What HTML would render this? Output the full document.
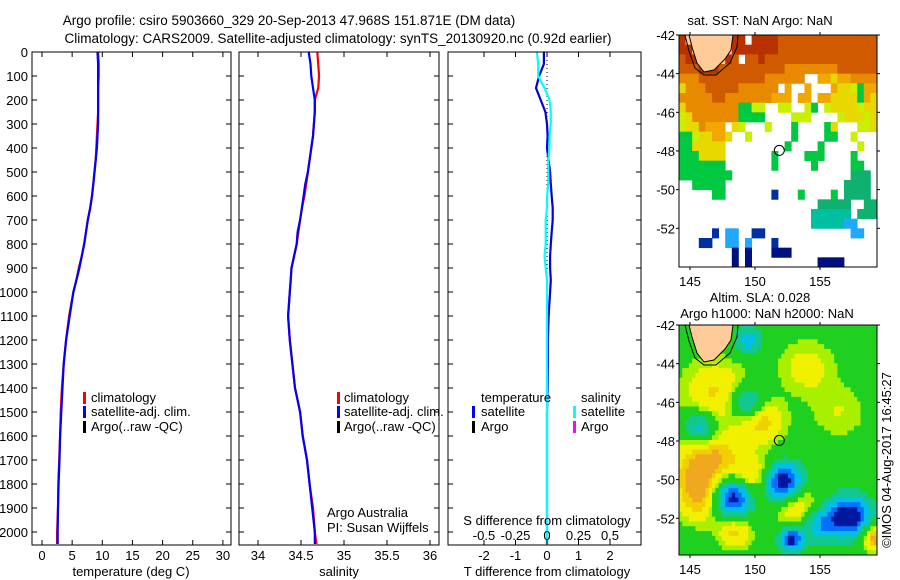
<!DOCTYPE html>
<html><head><meta charset="utf-8">
<style>
html,body{margin:0;padding:0;background:#fff;}
svg{display:block;font-family:"Liberation Sans",sans-serif;}
text{fill:#000;}
</style></head>
<body>
<svg id="fig" width="900" height="580" viewBox="0 0 900 580" xmlns="http://www.w3.org/2000/svg">
<text x="289" y="25" font-size="13.5" text-anchor="middle">Argo profile: csiro 5903660_329 20-Sep-2013 47.968S 151.871E (DM data)</text>
<text x="338" y="43" font-size="13.5" text-anchor="middle">Climatology: CARS2009. Satellite-adjusted climatology: synTS_20130920.nc (0.92d earlier)</text>
<g id="marks"></g>
<rect x="32" y="52" width="199" height="493" fill="none" stroke="#000"/>
<rect x="239" y="52" width="200" height="493" fill="none" stroke="#000"/>
<rect x="448" y="52" width="193" height="493" fill="none" stroke="#000"/>
<g id="ticks"></g>
<text x="131" y="576" font-size="13" text-anchor="middle">temperature (deg C)</text>
<text x="339" y="576" font-size="13" text-anchor="middle">salinity</text>
<text x="547" y="576" font-size="13" text-anchor="middle">T difference from climatology</text>
<text x="547" y="525" font-size="13" text-anchor="middle">S difference from climatology</text>
<text x="327" y="517" font-size="13">Argo Australia</text>
<text x="327" y="532" font-size="13">PI: Susan Wijffels</text>
<g>
<rect x="83" y="392" width="3" height="12" fill="#f00"/><text x="91" y="402" font-size="13">climatology</text>
<rect x="83" y="406" width="3" height="12" fill="#00f"/><text x="91" y="416" font-size="13">satellite-adj. clim.</text>
<rect x="83" y="421" width="3" height="12" fill="#000"/><text x="91" y="431" font-size="13">Argo(..raw -QC)</text>
</g>
<g>
<rect x="337" y="392" width="3" height="12" fill="#f00"/><text x="344" y="402" font-size="13">climatology</text>
<rect x="337" y="406" width="3" height="12" fill="#00f"/><text x="344" y="416" font-size="13">satellite-adj. clim.</text>
<rect x="337" y="421" width="3" height="12" fill="#000"/><text x="344" y="431" font-size="13">Argo(..raw -QC)</text>
</g>
<g>
<text x="481" y="402" font-size="13">temperature</text>
<text x="581" y="402" font-size="13">salinity</text>
<rect x="472" y="406" width="3" height="12" fill="#00f"/><text x="481" y="416" font-size="13">satellite</text>
<rect x="472" y="421" width="3" height="12" fill="#000"/><text x="481" y="431" font-size="13">Argo</text>
<rect x="573" y="406" width="3" height="12" fill="#0ff"/><text x="581" y="416" font-size="13">satellite</text>
<rect x="573" y="421" width="3" height="12" fill="#f0f"/><text x="581" y="431" font-size="13">Argo</text>
</g>
<text x="760" y="25" font-size="13" text-anchor="middle">sat. SST: NaN Argo: NaN</text>
<text x="760" y="302" font-size="13" text-anchor="middle">Altim. SLA: 0.028</text>
<text x="767" y="318" font-size="13" text-anchor="middle">Argo h1000: NaN h2000: NaN</text>
<g id="sstmap"></g>
<g id="slamap"></g>
<g id="mapaxes"></g>
<text transform="translate(891,460) rotate(-90)" font-size="13" text-anchor="middle">©IMOS 04-Aug-2017 16:45:27</text>
</svg>
<script>
const depths = [0,50,100,150,200,250,300,350,400,450,500,550,600,650,700,750,800,850,900,950,1000,1100,1200,1300,1400,1500,1600,1700,1800,1900,2000,2050];
const tempClim = [9.3,9.4,9.4,9.3,9.3,9.3,9.2,9.1,9.0,8.9,8.7,8.5,8.3,8.0,7.6,7.3,7.0,6.6,6.1,5.7,5.2,4.5,4.0,3.6,3.3,3.1,3.0,2.85,2.7,2.65,2.5,2.5];
const tempSat = [9.2,9.3,9.3,9.3,9.3,9.3,9.3,9.2,9.1,8.9,8.7,8.5,8.3,8.0,7.6,7.3,7.0,6.6,6.2,5.7,5.2,4.6,4.0,3.6,3.4,3.2,3.0,2.9,2.75,2.65,2.6,2.6];
const salClim = [34.69,34.70,34.71,34.70,34.66,34.66,34.65,34.64,34.62,34.60,34.58,34.56,34.54,34.51,34.49,34.47,34.45,34.42,34.39,34.38,34.37,34.35,34.37,34.40,34.43,34.49,34.52,34.57,34.60,34.64,34.66,34.68];
const salSat = [34.59,34.61,34.62,34.64,34.66,34.66,34.65,34.64,34.62,34.60,34.58,34.55,34.53,34.51,34.49,34.46,34.45,34.42,34.39,34.38,34.37,34.35,34.37,34.40,34.43,34.49,34.52,34.57,34.60,34.63,34.66,34.66];
const tDiff = [-0.1,-0.1,-0.25,-0.35,-0.2,-0.05,0,0.02,0,0.05,0.1,0.12,0.15,0.18,0.18,0.15,0.12,0.1,0.1,0.12,0.1,0.05,0.03,0.03,0.02,0,0,0,0,0,0,0];
const sDiff = [-0.08,-0.07,-0.07,-0.02,0.02,0.03,0.03,0.02,0.02,0.01,0.01,0.01,0,0,-0.01,-0.01,-0.01,-0.02,-0.01,0,0,0,0,0,0,0,0,0,0,0,0,0];
const depthTicks = [0,100,200,300,400,500,600,700,800,900,1000,1100,1200,1300,1400,1500,1600,1700,1800,1900,2000];
const tempTicks = [0,5,10,15,20,25,30];
const salTicks = [34,34.5,35,35.5,36];
const salTickLabels = ["34","34.5","35","35.5","36"];
const tdTicks = [-2,-1,0,1,2];
const sdTickLabels = ["-0.5","-0.25","0","0.25","0.5"];
const sstRows = [
"RLLLLLLLRR.RRRRrrrrrrrrrrrrrrr",
"RRLLLLLLRRRRRRRrrrrrrrrrrrrrrr",
"rRRLLLLRr.rrRrrrrrrrrrrrrrrrrr",
"rrrRRRrrrrrrrrrroooooooorrrrrr",
"ooorrrrrrrrrroooooo..OOyOOoooo",
"yooorrrrroooooo.O..O...OyylgOO",
"ooooorroooooooOOO.OO.OOyyyygOy",
"yooooooooggll..ll..lg.lyyyylyy",
"lyooooooogggg....lll....lyyyly",
"lyyoOOO.yl...l...g....gy...lly",
"gglyyOOy..l......g....gg..l...",
"ggyyyyy.........g....g.....l..",
"gggyyyy.......g....ggg....g...",
"ggggggg.......g.....g.....gg..",
"gggggggg..................GGG.",
"..ggggg..................GGGG.",
".....gg.......b...g....g.GGGG.",
".....................GGGGG..GG",
"....................tttttt.GGG",
"....................tttttcc...",
".....b.cc..bb.............cc..",
"...bb..cc.c...b...............",
"........n.n...nnn.............",
"........n.n..........nnnn....."];
const slaEddies = [
[149.4,-46,-0.6,0.6],[145.8,-47.3,-0.6,0.6],[152.1,-50.2,-1.1,0.75],[148.3,-50.9,-1.1,0.75],
[157.3,-51.9,-1.0,0.75],[155,-52.3,-0.5,0.7],[152.8,-53.1,-0.85,0.45],[149.5,-42.8,-0.5,0.5],
[147,-45.5,0.4,1.2],[150.6,-47,0.45,0.8],[146,-50.8,0.6,0.95],[150,-50,0.55,0.8],[153.2,-51.3,0.5,0.8],
[148.5,-52.7,0.45,0.6],[145.3,-49,0.35,1.0],[159.3,-53,0.65,0.5],[154,-44.2,0.28,1.0],[147.5,-48.8,0.35,0.9],[156.5,-46.5,0.2,1.0]];
const mapLonTicks = [145,150,155];
const mapLatTicks = [-42,-44,-46,-48,-50,-52];

const NS="http://www.w3.org/2000/svg";
function mk(tag, attrs, parent){const e=document.createElementNS(NS,tag);for(const k in attrs)e.setAttribute(k,attrs[k]);parent.appendChild(e);return e;}
const marks=document.getElementById('marks'), ticks=document.getElementById('ticks');
const yD=d=>52+0.24*d;
const xT=t=>42+6.03*t;
const xS=s=>258+86*(s-34);
const xTD=t=>547+31.5*t;
const xSD=s=>547+126*s;

function line(xs, xf, color, name){
  const pts=depths.map((d,i)=>xf(xs[i]).toFixed(1)+','+yD(d).toFixed(1)).join(' ');
  const p=mk('polyline',{points:pts,fill:'none',stroke:color,'stroke-width':2.2},marks);
  
  
}
const zl=mk('line',{x1:547,y1:52,x2:547,y2:545,stroke:'#000','stroke-dasharray':'1,3'},marks);


line(tempClim,xT,'#f00','temperature-climatology-line');
line(tempSat,xT,'#00f','temperature-satellite-line');
line(salClim,xS,'#f00','salinity-climatology-line');
line(salSat,xS,'#00f','salinity-satellite-line');
line(tDiff,xTD,'#0000e0','t-difference-line');
line(sDiff,xSD,'#00ffff','s-difference-line');

const panels=[[32,231],[239,439],[448,641]];
depthTicks.forEach(d=>{
  const y=yD(d);
  panels.forEach(p=>{
    const a=mk('line',{x1:p[0],y1:y,x2:p[0]+5,y2:y,stroke:'#000'},ticks);
    
    
    const b=mk('line',{x1:p[1]-5,y1:y,x2:p[1],y2:y,stroke:'#000'},ticks);
    
    
  });
  const t=mk('text',{x:28,y:y+5,'font-size':13,'text-anchor':'end'},ticks);
  t.textContent=d;
  
  
});
function xticks(vals, f, labels, ly, name){
  vals.forEach((v,i)=>{
    const x=f(v);
    const a=mk('line',{x1:x,y1:52,x2:x,y2:57,stroke:'#000'},ticks);
    
    
    const b=mk('line',{x1:x,y1:540,x2:x,y2:545,stroke:'#000'},ticks);
    
    
    const t=mk('text',{x:x,y:ly,'font-size':13,'text-anchor':'middle'},ticks);
    t.textContent=labels[i];
    
    
  });
}
xticks(tempTicks,xT,tempTicks.map(String),560,'temperature-tick-label');
xticks(salTicks,xS,salTickLabels,560,'salinity-tick-label');
xticks(tdTicks,xTD,tdTicks.map(String),560,'t-difference-tick-label');
tdTicks.forEach((v,i)=>{
  const t=mk('text',{x:xTD(v),y:540,'font-size':13,'text-anchor':'middle'},ticks);
  t.textContent=sdTickLabels[i];
  
  
});

const MX0=679, MX1=877;
const lonX=lo=>690+13*(lo-145);
function latY(top){return la=>top+19.33*(-42-la);}
const sstY=latY(35), slaY=latY(325);
const cols={R:'#b83200',r:'#d05a00',o:'#e88a00',O:'#f0a800',y:'#e8d800',l:'#c8f000',g:'#00c840',G:'#10b070',t:'#00c0a0',c:'#20a8ff',b:'#0030a0',n:'#001080',L:'#ffcc99'};
const sst=document.getElementById('sstmap');
const cw=(MX1-MX0)/30, ch=(267-35)/24;
sstRows.forEach((row,r)=>{
  for(let c=0;c<30;c++){
    const k=row[c]||'.';
    if(k==='.')continue;
    const cell=mk('rect',{x:(MX0+c*cw).toFixed(2),y:(35+r*ch).toFixed(2),width:(cw+0.4).toFixed(2),height:(ch+0.4).toFixed(2),fill:cols[k]},sst);
    
    
  }
});
const sla=document.getElementById('slamap');
function slaColor(v){
  if(v<-0.75)return '#0018a0';
  if(v<-0.55)return '#0070ff';
  if(v<-0.35)return '#00c0e8';
  if(v<-0.15)return '#10c890';
  if(v<0.1)return '#20d020';
  if(v<0.2)return '#a8f000';
  if(v<0.38)return '#f0f000';
  if(v<0.5)return '#f0d000';
  return '#f0a820';
}
const NX=60, NY=48, sw=(MX1-MX0)/NX, sh=(555-325)/NY;
for(let j=0;j<NY;j++){
  for(let i=0;i<NX;i++){
    const lo=144.2+(i+0.5)*(15.2/NX), la=-42-(j+0.5)*(11.9/NY);
    let v=0;
    slaEddies.forEach(e=>{const dx=(lo-e[0])*0.67, dy=la-e[1];v+=e[2]*Math.exp(-(dx*dx+dy*dy)/(2*e[3]*e[3]));});
    const cell=mk('rect',{x:(MX0+i*sw).toFixed(2),y:(325+j*sh).toFixed(2),width:(sw+0.4).toFixed(2),height:(sh+0.4).toFixed(2),fill:slaColor(v)},sla);
    
    
  }
}
const ax=document.getElementById('mapaxes');
[[35,267,sstY,'sst'],[325,555,slaY,'sla']].forEach(m=>{
  const top=m[0], bot=m[1], yf=m[2];
  const land=mk('polygon',{points:`689,${top} 733,${top} 731,${top+15} 725,${top+24} 714,${top+35} 704,${top+37} 697,${top+28} 692,${top+12}`,fill:'#ffcc99',stroke:'#000','stroke-width':1},ax);
  
  
  const cont=mk('polyline',{points:`685,${top} 689,${top+16} 695,${top+33} 704,${top+40} 716,${top+40} 730,${top+28} 737,${top+12} 738,${top}`,fill:'none',stroke:'#000','stroke-width':1},ax);
  
  
  const fr=mk('rect',{x:MX0,y:top,width:MX1-MX0,height:bot-top,fill:'none',stroke:'#000'},ax);
  
  
  const circ=mk('circle',{cx:lonX(151.87),cy:yf(-47.97),r:5,fill:'none',stroke:'#000'},ax);
  
  
  mapLatTicks.forEach(la=>{
    const y=yf(la);
    const t=mk('text',{x:675,y:y+5,'font-size':13,'text-anchor':'end'},ax);
    t.textContent=la;
    
    
    const a=mk('line',{x1:MX0-3,y1:y,x2:MX0,y2:y,stroke:'#000'},ax);
    
    
    const b=mk('line',{x1:MX1,y1:y,x2:MX1+3,y2:y,stroke:'#000'},ax);
    
    
  });
  mapLonTicks.forEach(lo=>{
    const x=lonX(lo);
    const t=mk('text',{x:x,y:bot+19,'font-size':13,'text-anchor':'middle'},ax);
    t.textContent=lo;
    
    
    const a=mk('line',{x1:x,y1:top-3,x2:x,y2:top,stroke:'#000'},ax);
    
    
    const b=mk('line',{x1:x,y1:bot,x2:x,y2:bot+3,stroke:'#000'},ax);
    
    
  });
});
</script>
</body></html>
